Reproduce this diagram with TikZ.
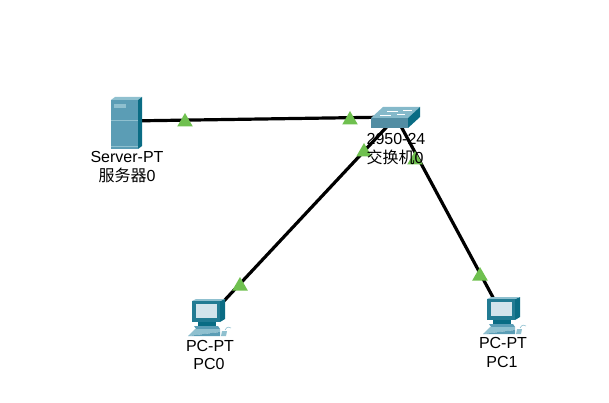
\documentclass[tikz,border=0pt]{standalone}
\usepackage{fontspec}
\setmainfont{Liberation Sans}
\newfontfamily\cjkfont{Noto Sans CJK SC}
\usetikzlibrary{shapes.geometric}
\definecolor{devFront}{HTML}{5B9DB5}
\definecolor{devSide}{HTML}{0A6C84}
\definecolor{devTop}{HTML}{8FC0CF}
\definecolor{devLight}{HTML}{D3E4EC}
\definecolor{linkMark}{HTML}{6FC04F}
\tikzset{
  device/.style={inner sep=0pt, minimum size=2pt},
  link/.style={black, line width=3.2pt},
  linkmark/.style={regular polygon, regular polygon sides=3, fill=linkMark, inner sep=0pt, minimum size=18pt},
  devlabel/.style={font=\fontsize{16}{18}\selectfont, text=black, inner sep=0pt, anchor=center},
  server/.pic={
    \fill[devFront] (-16,-22) -- (11,-22) -- (11,27) -- (-16,27) -- cycle;
    \fill[devTop] (-16,-22) -- (-12,-25) -- (15,-25) -- (11,-22) -- cycle;
    \fill[devSide] (11,-22) -- (15,-25) -- (15,24) -- (11,27) -- cycle;
    \fill[devTop] (-13,-18) rectangle (-1,-14);
    \draw[devTop, line width=0.5pt] (-16,-2) -- (11,-2);
    \draw[devTop, line width=0.5pt] (-16,24) -- (11,24);
  },
  switchbox/.pic={
    \fill[devTop!80!devFront] (-25,1) -- (-13,-10) -- (24,-10) -- (12,1) -- cycle;
    \fill[devFront!90!black] (-25,1) rectangle (12,11);
    \fill[devSide] (12,1) -- (24,-10) -- (24,0) -- (12,11) -- cycle;
    \draw[white, line width=0.8pt] (-9,-6) -- (2,-6) (7,-7) -- (16,-7);
    \draw[white, line width=0.8pt] (-16,-2) -- (-5,-2) (1,-3) -- (9,-3);
  },
  computer/.pic={
    % monitor
    \fill[devSide] (12,-17) -- (17,-19) -- (17,1) -- (12,4) -- cycle;
    \fill[devTop] (-16,-17) -- (-12,-19) -- (17,-19) -- (12,-17) -- cycle;
    \fill[devSide!70!devFront] (-16,-17) rectangle (12,4);
    \fill[devLight] (-12,-14) rectangle (9,0);
    % stand and keyboard
    \fill[devSide] (-10,4) rectangle (8,8);
    \fill[devFront] (-14,8) -- (10,8) -- (12,11) -- (-12,11) -- cycle;
    \fill[devTop] (-13,11) -- (12,11) -- (12,14) -- (-20,18) -- cycle;
    \fill[devFront] (-20,18) -- (12,14) -- (12,18) -- cycle;
    % mouse
    \fill[devTop] (14,13) -- (19,13) -- (18,18) -- (13,18) -- cycle;
    \draw[devTop, line width=0.6pt] (17,12) .. controls (19,8) and (22,9) .. (23,10);
  }
}

\begin{document}
\begin{tikzpicture}[x=1pt, y=-1pt]
  \useasboundingbox (0,0) rectangle (609,403);

  \node[device] (server0) at (127,121) {};
  \node[device] (switch0) at (396,117) {};
  \node[device] (pc0) at (208,318) {};
  \node[device] (pc1) at (503,316) {};

  \draw[link] (server0) -- (switch0);
  \draw[link] (switch0) -- (pc0);
  \draw[link] (switch0) -- (pc1);

  \node[linkmark] (markA) at (185,122) {};
  \node[linkmark] (markB) at (350,120) {};
  \node[linkmark] (markC) at (240,286) {};
  \node[linkmark] (markD) at (364,152) {};
  \node[linkmark] (markE) at (480,276) {};
  \node[linkmark] (markF) at (415,160) {};

  \pic at (127,122) {server};
  \pic at (switch0) {switchbox};
  \pic at (pc0) {computer};
  \pic at (pc1) {computer};

  \node[devlabel] (serverType) at (127,157) {Server-PT};
  \node[devlabel] (serverName) at (127,175) {{\cjkfont 服务器}0};
  \node[devlabel] (switchType) at (396,139) {2950-24};
  \node[devlabel] (switchName) at (395,157) {{\cjkfont 交换机}0};
  \node[devlabel] (pcTypeA) at (210,346) {PC-PT};
  \node[devlabel] (pcNameA) at (209,364) {PC0};
  \node[devlabel] (pcTypeB) at (503,343) {PC-PT};
  \node[devlabel] (pcNameB) at (502,362) {PC1};
\end{tikzpicture}
\end{document}
